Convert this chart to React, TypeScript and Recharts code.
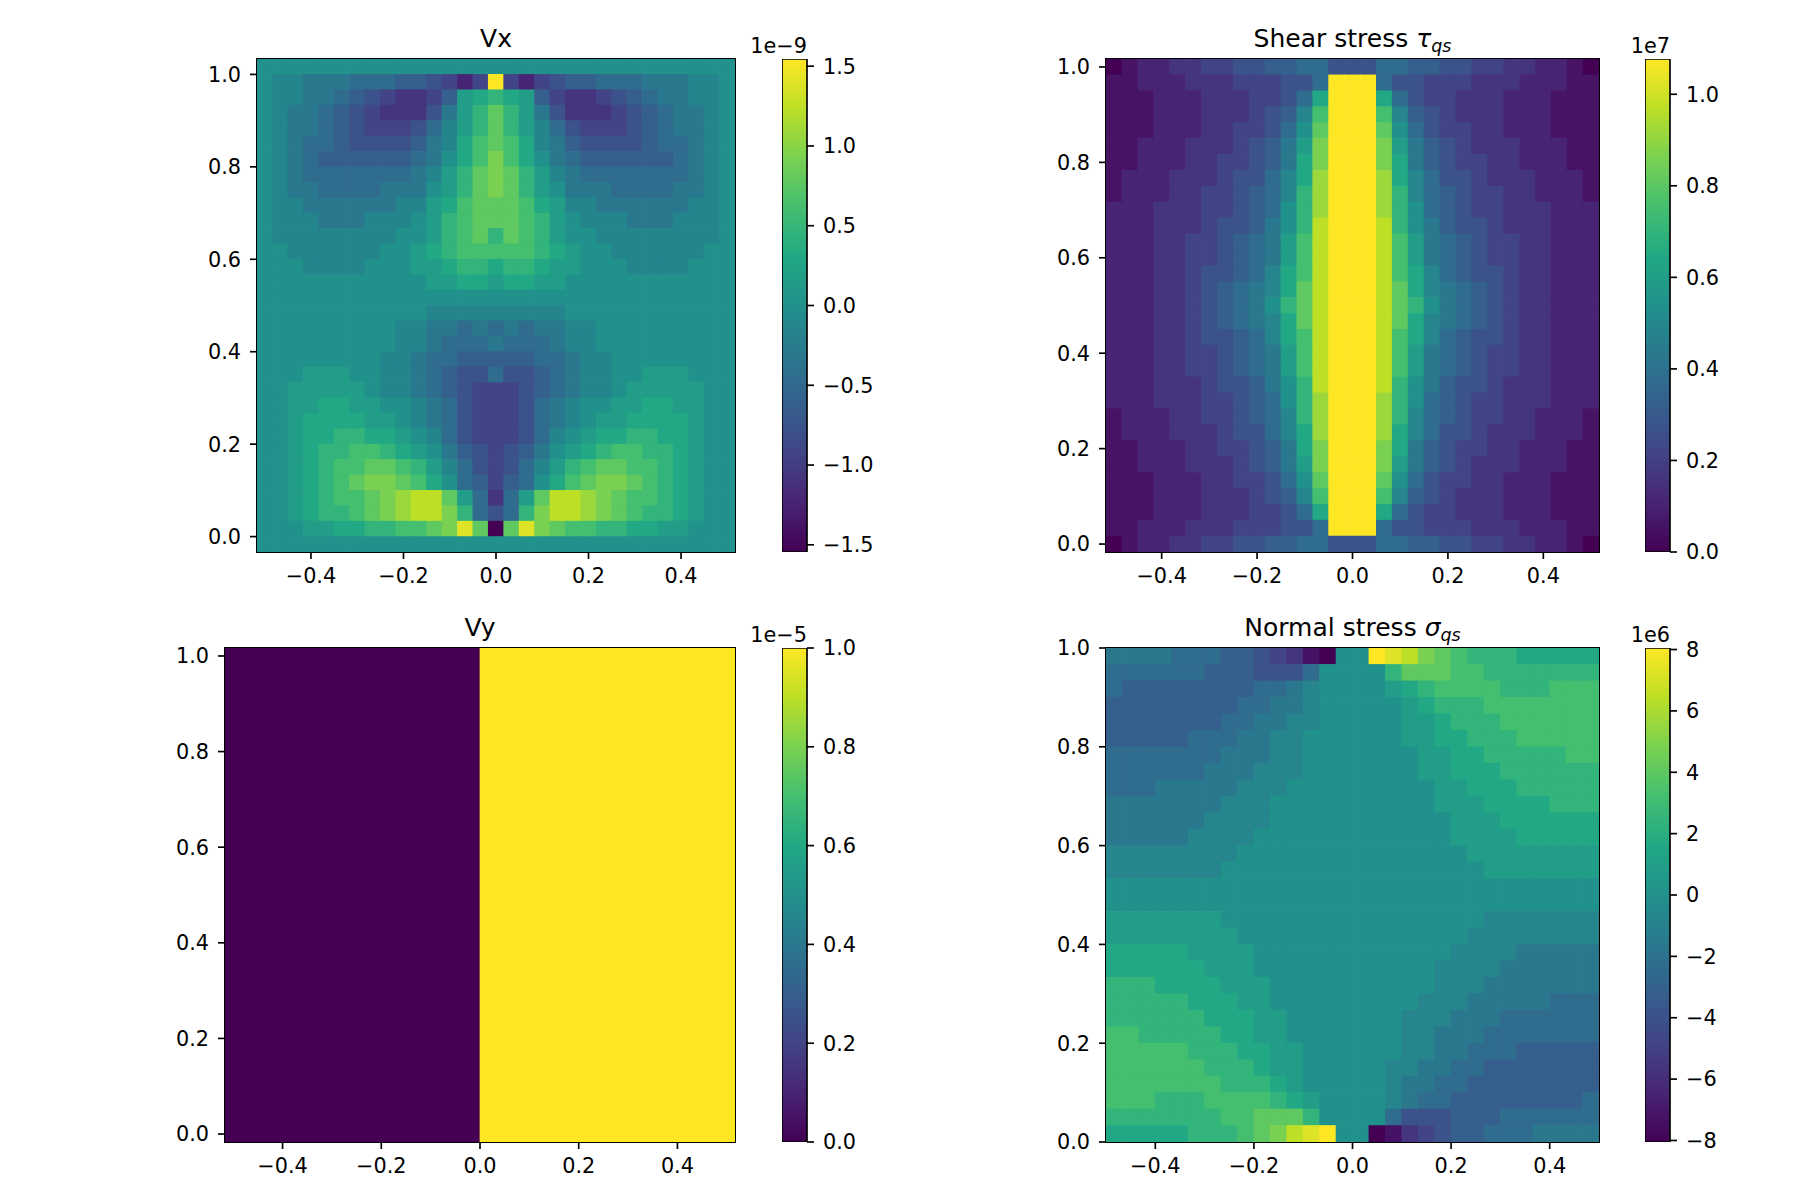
import React from "react";
import { ScatterChart, Scatter, XAxis, YAxis, BarChart, Bar } from "recharts";

// matplotlib viridis, 11 stops
const VIRIDIS = ["#440154", "#482475", "#414487", "#355f8d", "#2a788e", "#21918c", "#22a884", "#44bf70", "#7ad151", "#bddf26", "#fde725"];
// colour levels: 0 = bottom of the colour bar, K = top
const LEVELS = "0123456789ABCDEFGHIJK";

// Vx (x1e-9), 32 rows from top, 31 columns (left | centre | right)
const vxRange: [number, number] = [-1.545, 1.545];
const vxRows = [
  ["AAAAAAAAAAAAAAA", "A", "AAAAAAAAAAAAAAA"],
  ["A99888777665424", "K", "42456677788899A"],
  ["A998876543346BC", "D", "CB643345678899A"],
  ["A988765433358BD", "F", "DB853334567889A"],
  ["A988765444579BD", "F", "DB975444567889A"],
  ["A987765555689CE", "F", "EC986555567789A"],
  ["A98766666678ACE", "G", "ECA87666666789A"],
  ["A98777777789BDF", "G", "FDB98777777789A"],
  ["A9887777888ABDF", "G", "FDBA8887777889A"],
  ["A9988888899BCEF", "F", "FECB9988888899A"],
  ["A999888999ABDEF", "F", "FEDBA999888999A"],
  ["A99999999AABDEF", "D", "FEDBAA99999999A"],
  ["AA999999AABCDEE", "E", "EEDCBAA999999AA"],
  ["AAA9999AAABBCDD", "C", "DDCBBAAA9999AAA"],
  ["AAAAAAAAAAABBCC", "B", "CCBBAAAAAAAAAAA"],
  ["AAAAAAAAAAAAAAA", "A", "AAAAAAAAAAAAAAA"],
  ["AAAAAAAAAAA9999", "9", "9999AAAAAAAAAAA"],
  ["AAAAAAAAA998878", "7", "878899AAAAAAAAA"],
  ["AAAAAAAAA998777", "8", "777899AAAAAAAAA"],
  ["AAAAAAAA9987766", "6", "6677899AAAAAAAA"],
  ["AAABBBAA9987655", "7", "5567899AABBBAAA"],
  ["AABBBBBA9987654", "4", "4567899ABBBBBAA"],
  ["AABBCCBBAA98754", "4", "45789AABBCCBBAA"],
  ["AABCCCCBBA98754", "4", "45789ABBCCCCBAA"],
  ["AABCCDDCCBA9754", "4", "4579ABCCDDCCBAA"],
  ["AABCDDEEDCBA865", "4", "568ABCDEEDDCBAA"],
  ["AABCDEEFFEDB975", "4", "579BDEFFEEDCBAA"],
  ["AABCDEFGGFECA76", "4", "67ACEFGGFEDCBAA"],
  ["AABCDEEFGHIIFB7", "3", "7BFIIHGFEEDCBAA"],
  ["AABCDDEFGHIIGD7", "5", "7DGIIHGFEDDCBAA"],
  ["AAABBCCDDEEFGJF", "0", "FJGFEEDDCCBBAAA"],
  ["AAAAAAAAAAAAAAA", "A", "AAAAAAAAAAAAAAA"],
].map((r) => r.join(""));

// Shear stress (x1e7), 31 rows from top, 31 columns
const shearRange: [number, number] = [0, 1.077];
const shearRows = [
  ["012233445566775", "5", "577665544332210"],
  ["11222333444557K", "K", "K75544433322211"],
  ["1112223334457CK", "K", "KC7544333222111"],
  ["1112223334569EK", "K", "KE9654333222111"],
  ["111222334457AFK", "K", "KFA754433222111"],
  ["112223334568BGK", "K", "KGB865433322211"],
  ["112223344568CGK", "K", "KGC865443322211"],
  ["122233345579CHK", "K", "KHC975543332221"],
  ["122233445679DHK", "K", "KHD976544332221"],
  ["22233344567ADHK", "K", "KHDA76544333222"],
  ["22233345568ADIK", "K", "KIDA86554333222"],
  ["22233445678BEIK", "K", "KIEB87654433222"],
  ["22233445678BEIK", "K", "KIEB87654433222"],
  ["22233455679CEIK", "K", "KIEC97655433222"],
  ["22233456789CFIK", "K", "KIFC98765433222"],
  ["2223345678ADFIK", "K", "KIFDA8765433222"],
  ["22233456789CFIK", "K", "KIFC98765433222"],
  ["22233455679CEIK", "K", "KIEC97655433222"],
  ["22233445678BEIK", "K", "KIEB87654433222"],
  ["22233445678BEIK", "K", "KIEB87654433222"],
  ["22233345568ADIK", "K", "KIDA86554333222"],
  ["22233344567ADHK", "K", "KHDA76544333222"],
  ["122233445679DHK", "K", "KHD976544332221"],
  ["122233345579CHK", "K", "KHC975543332221"],
  ["112223344568CGK", "K", "KGC865443322211"],
  ["112223334568BGK", "K", "KGB865433322211"],
  ["111222334457AFK", "K", "KFA754433222111"],
  ["1112223334569EK", "K", "KE9654333222111"],
  ["1112223334457CK", "K", "KC7544333222111"],
  ["11222333444557K", "K", "K75544433322211"],
  ["012233445566775", "5", "577665544332210"],
].map((r) => r.join(""));

// Vy (x1e-5): left half, right half
const vyRange: [number, number] = [0, 1];
const vyRows = ["0K"];

// Normal stress (x1e6), 30 rows from top, 30 columns (left | right)
const normalRange: [number, number] = [-8.05, 8.05];
const normalRows = [
  ["88887776654310A", "AKJIGFEDDDCCCCC"],
  ["7777776665557AA", "AADFFFEEDDDDDDD"],
  ["7666666667789AA", "AABCDEEEEDDDEEE"],
  ["6666666677889AA", "AAABCDDDEEEEEEE"],
  ["6666666778899AA", "AAABBCDDDEEEEEE"],
  ["666667778899AAA", "AAABBCCDDDEEEEE"],
  ["777777788899AAA", "AAAABBCCDDDDDEE"],
  ["777777888999AAA", "AAAABBCCCDDDDDD"],
  ["77788888999AAAA", "AAAAABBCCCDDDDD"],
  ["8888888999AAAAA", "AAAAABBBCCCCDDD"],
  ["8888889999AAAAA", "AAAAAABBBCCCCCC"],
  ["888889999AAAAAA", "AAAAAABBBBCCCCC"],
  ["99999999AAAAAAA", "AAAAAAABBBBBBBB"],
  ["9999999AAAAAAAA", "AAAAAAAABBBBBBB"],
  ["AAAAAAAAAAAAAAA", "AAAAAAAAAAAAAAA"],
  ["AAAAAAAAAAAAAAA", "AAAAAAAAAAAAAAA"],
  ["BBBBBBBAAAAAAAA", "AAAAAAAA9999999"],
  ["BBBBBBBBAAAAAAA", "AAAAAAA99999999"],
  ["CCCCCBBBBAAAAAA", "AAAAAA999988888"],
  ["CCCCCCBBBAAAAAA", "AAAAA9999888888"],
  ["DDDCCCCBBBAAAAA", "AAAAA9998888888"],
  ["DDDDDCCCBBAAAAA", "AAAA99988888777"],
  ["DDDDDDCCCBBAAAA", "AAA999888777777"],
  ["EEDDDDDCCBBAAAA", "AAA998887777777"],
  ["EEEEEDDDCCBBAAA", "AAA998877766666"],
  ["EEEEEEDDDCBBAAA", "AA9988776666666"],
  ["EEEEEEEDDDCBAAA", "AA9887766666666"],
  ["EEEDDDEEEEDCBAA", "AA9877666666667"],
  ["DDDDDDDEEFFFDAA", "AA7555666777777"],
  ["CCCCCDDDEFGIJKA", "A01345667778888"],
].map((r) => r.join(""));

const posTicks = [-0.4, -0.2, 0, 0.2, 0.4];
const unitTicks = [0, 0.2, 0.4, 0.6, 0.8, 1.0];
const vxBarTicks = [-1.5, -1, -0.5, 0, 0.5, 1, 1.5];
const shearBarTicks = [0, 0.2, 0.4, 0.6, 0.8, 1.0];
const vyBarTicks = [0, 0.2, 0.4, 0.6, 0.8, 1.0];
const normalBarTicks = [-8, -6, -4, -2, 0, 2, 4, 6, 8];

const FONT = "DejaVu Sans";
const LW = 1.67;

const rgb = VIRIDIS.map((h) => [1, 3, 5].map((i) => parseInt(h.slice(i, i + 2), 16)));
function viridis(t: number) {
  const s = Math.max(0, Math.min(1, t)) * 10;
  const i = Math.min(9, Math.floor(s));
  const f = s - i;
  const c = rgb[i].map((v, k) => Math.round(v + (rgb[i + 1][k] - v) * f));
  return `rgb(${c[0]},${c[1]},${c[2]})`;
}

// turn the level strings into cells at grid centres
function gridCells(rows: string[], range: [number, number], x0: number, y0: number, dx: number, dy: number) {
  const cells: any[] = [];
  rows.forEach((row, r) => {
    row.split("").forEach((ch, c) => {
      const value = range[0] + (LEVELS.indexOf(ch) / 20) * (range[1] - range[0]);
      cells.push({
        x: x0 + c * dx,
        y: y0 - r * dy,
        value,
        fill: viridis((value - range[0]) / (range[1] - range[0])),
      });
    });
  });
  return cells;
}

const vxCells = gridCells(vxRows, vxRange, -0.5, 61 / 60, 1 / 30, 1 / 30);
const shearCells = gridCells(shearRows, shearRange, -0.5, 1, 1 / 30, 1 / 30);
const vyCells = gridCells(vyRows, vyRange, -31 / 120, 0.5, 31 / 60, 1);
const normalCells = gridCells(normalRows, normalRange, -0.5 + 1 / 60, 1 - 1 / 60, 1 / 30, 1 / 30);

const fmt1 = (v: number) => (Math.abs(v) < 1e-9 ? "0.0" : v.toFixed(1)).replace("-", "\u2212");
const fmt0 = (v: number) => String(v).replace("-", "\u2212");

const tickStyle = { fill: "#000", fontSize: 20.8, fontFamily: FONT };
const lineStyle = { stroke: "#000", strokeWidth: LW };

function HeatPanel(props: any) {
  const { left, top, w, h, xDomain, yDomain, cellW, cellH, cells } = props;
  const ML = 90, MT = 18, MR = 8, XH = 50;
  const pw = (w * cellW) / (xDomain[1] - xDomain[0]);
  const ph = (h * cellH) / (yDomain[1] - yDomain[0]);
  const shape = (p: any) => (
    <rect x={p.cx - pw / 2 - 0.35} y={p.cy - ph / 2 - 0.35} width={pw + 0.7} height={ph + 0.7} fill={p.payload.fill} />
  );
  return (
    <>
      <div style={{ position: "absolute", left: left - ML, top: top - MT }}>
        <ScatterChart width={ML + w + MR} height={MT + h + XH} margin={{ top: MT, right: MR, bottom: 0, left: 0 }}>
          <XAxis type="number" dataKey="x" domain={xDomain} allowDataOverflow ticks={posTicks} interval={0}
            tickFormatter={fmt1} height={XH} tickSize={7} tickMargin={9} tick={tickStyle} tickLine={lineStyle} axisLine={lineStyle} />
          <YAxis type="number" dataKey="y" domain={yDomain} allowDataOverflow ticks={unitTicks} interval={0}
            tickFormatter={fmt1} width={ML} tickSize={7} tickMargin={9} tick={tickStyle} tickLine={lineStyle} axisLine={lineStyle} />
          <Scatter data={cells} shape={shape} isAnimationActive={false} />
        </ScatterChart>
      </div>
      {/* axes frame (spines) */}
      <div style={{
        position: "absolute", left: left - LW / 2, top: top - LW / 2, width: w + LW, height: h + LW,
        boxSizing: "border-box", border: `${LW}px solid #000`, pointerEvents: "none",
      }} />
    </>
  );
}

function ColorBar(props: any) {
  const { left, top, h, range, ticks, format, id } = props;
  const W = 25, AW = 80, PAD = 14;
  return (
    <div style={{ position: "absolute", left, top: top - PAD }}>
      <BarChart width={W + AW} height={h + 2 * PAD} data={[{ name: "cb", span: range }]}
        margin={{ top: PAD, right: 0, bottom: PAD, left: 0 }} barCategoryGap={0} barGap={0}>
        <defs>
          <linearGradient id={id} x1="0" y1="1" x2="0" y2="0">
            {VIRIDIS.map((c, i) => <stop key={i} offset={i / 10} stopColor={c} />)}
          </linearGradient>
        </defs>
        <XAxis dataKey="name" hide />
        <YAxis orientation="right" type="number" domain={range} allowDataOverflow ticks={ticks} interval={0}
          tickFormatter={format} width={AW} tickSize={7} tickMargin={9} tick={tickStyle} tickLine={lineStyle} axisLine={false} />
        <Bar dataKey="span" fill={`url(#${id})`} stroke="#000" strokeWidth={LW} isAnimationActive={false} />
      </BarChart>
    </div>
  );
}

export default function App() {
  return (
    <div style={{ position: "absolute", left: 0, top: 0, width: 1800, height: 1200, background: "#fff", fontFamily: FONT }}>
      <HeatPanel left={257} top={59} w={478} h={493} xDomain={[-31 / 60, 31 / 60]} yDomain={[-1 / 30, 31 / 30]}
        cellW={1 / 30} cellH={1 / 30} cells={vxCells} />
      <ColorBar left={782} top={59} h={493} range={vxRange} ticks={vxBarTicks} format={fmt1} id="cbVx" />

      <HeatPanel left={1106} top={59} w={493} h={493} xDomain={[-31 / 60, 31 / 60]} yDomain={[-1 / 60, 61 / 60]}
        cellW={1 / 30} cellH={1 / 30} cells={shearCells} />
      <ColorBar left={1645} top={59} h={493} range={shearRange} ticks={shearBarTicks} format={fmt1} id="cbShear" />

      <HeatPanel left={225} top={648} w={510} h={494} xDomain={[-31 / 60, 31 / 60]} yDomain={[-1 / 60, 61 / 60]}
        cellW={31 / 60} cellH={31 / 30} cells={vyCells} />
      <ColorBar left={782} top={648} h={494} range={vyRange} ticks={vyBarTicks} format={fmt1} id="cbVy" />

      <HeatPanel left={1106} top={648} w={493} h={494} xDomain={[-0.5, 0.5]} yDomain={[0, 1]}
        cellW={1 / 30} cellH={1 / 30} cells={normalCells} />
      <ColorBar left={1645} top={648} h={494} range={normalRange} ticks={normalBarTicks} format={fmt0} id="cbNormal" />

      <svg width={1800} height={1200} style={{ position: "absolute", left: 0, top: 0, pointerEvents: "none" }}
        fontFamily={FONT} fill="#000">
        <text x={496} y={46.5} fontSize={25} textAnchor="middle">Vx</text>
        <text x={1352.5} y={46.5} fontSize={25} textAnchor="middle">
          Shear stress <tspan fontStyle="italic">τ</tspan>
          <tspan fontStyle="italic" fontSize={17.5} dy={5}>qs</tspan>
        </text>
        <text x={480} y={635.5} fontSize={25} textAnchor="middle">Vy</text>
        <text x={1352.5} y={635.5} fontSize={25} textAnchor="middle">
          Normal stress <tspan fontStyle="italic">σ</tspan>
          <tspan fontStyle="italic" fontSize={17.5} dy={5}>qs</tspan>
        </text>
        <text x={807} y={53} fontSize={20.8} textAnchor="end">1e−9</text>
        <text x={1670} y={53} fontSize={20.8} textAnchor="end">1e7</text>
        <text x={807} y={642} fontSize={20.8} textAnchor="end">1e−5</text>
        <text x={1670} y={642} fontSize={20.8} textAnchor="end">1e6</text>
      </svg>
    </div>
  );
}
